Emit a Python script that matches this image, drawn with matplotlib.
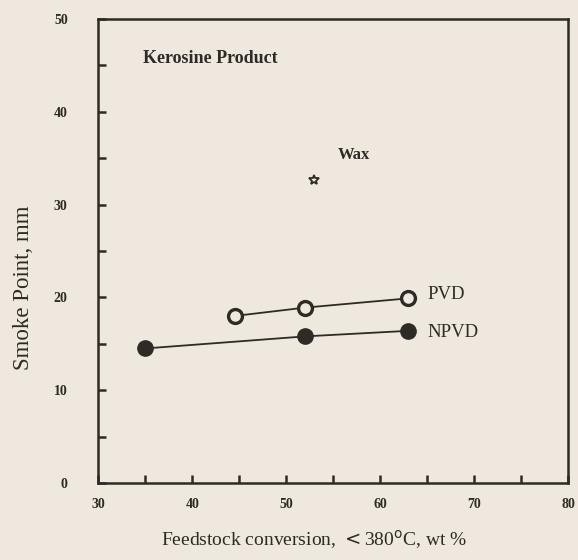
import matplotlib
matplotlib.use("Agg")
import matplotlib.pyplot as plt
from matplotlib.ticker import MultipleLocator

pvd_x = [44.5, 52, 63]
pvd_y = [18.0, 18.9, 19.9]
npvd_x = [35, 52, 63]
npvd_y = [14.5, 15.8, 16.4]
wax_x = [53]
wax_y = [32.7]
x_ticks = [30, 40, 50, 60, 70, 80]
y_ticks = [0, 10, 20, 30, 40, 50]

bg = "#efe8de"
ink = "#2e2a26"
plt.rcParams['font.family'] = ['Liberation Serif', 'DejaVu Serif']

fig = plt.figure(figsize=(5.78, 5.6), dpi=100, facecolor=bg)
ax = fig.add_axes([0.170, 0.1375, 0.813, 0.8285])
ax.set_facecolor(bg)

ax.plot(pvd_x, pvd_y, '-', color=ink, lw=1.3, marker='o', ms=10,
        mfc=bg, mec=ink, mew=2.4, zorder=3)
ax.plot(npvd_x, npvd_y, '-', color=ink, lw=1.3, marker='o', ms=11,
        mfc=ink, mec=ink, zorder=3)
ax.plot(wax_x, wax_y, linestyle='none', marker='*', ms=7, mfc=bg, mec=ink, mew=1.3)

ax.set_xlim(30, 80)
ax.set_ylim(0, 50)
ax.set_xticks(x_ticks)
ax.set_yticks(y_ticks)
ax.xaxis.set_minor_locator(MultipleLocator(5))
ax.yaxis.set_minor_locator(MultipleLocator(5))
ax.tick_params(which='both', direction='in', length=6, width=1.8, color=ink,
               labelsize=10, labelcolor=ink, top=False, right=False)
ax.tick_params(axis='x', pad=11)
ax.tick_params(axis='y', pad=22)
for lab in ax.get_xticklabels() + ax.get_yticklabels():
    lab.set_fontweight('bold')
for s in ax.spines.values():
    s.set_linewidth(1.8)
    s.set_color(ink)

ax.text(0.095, 0.915, "Kerosine Product", transform=ax.transAxes, fontsize=13,
        fontweight='bold', color=ink, va='center')
ax.text(55.5, 35.3, "Wax", fontsize=12, fontweight='bold', color=ink, va='center')
ax.text(65, 20.3, "PVD", fontsize=13.5, color=ink, va='center')
ax.text(65, 16.2, "NPVD", fontsize=13.5, color=ink, va='center')

ax.set_xlabel("Feedstock conversion, $<$380$^{\\rm o}$C, wt %", fontsize=14,
              color=ink, va='center')
ax.xaxis.set_label_coords(0.46, -0.123)
ax.set_ylabel("Smoke Point, mm", fontsize=16.5, color=ink, va='center')
ax.yaxis.set_label_coords(-0.16, 0.42)

fig.savefig("out.png", dpi=100, facecolor=bg)
